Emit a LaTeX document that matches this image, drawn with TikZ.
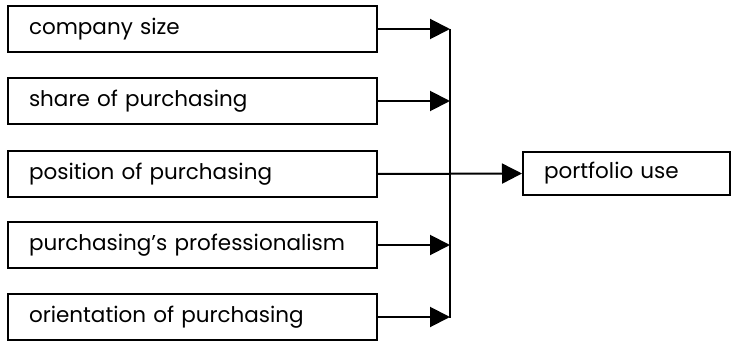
\documentclass[tikz,border=0pt]{standalone}
\usepackage{fontspec}
\setmainfont{Poppins}
\usetikzlibrary{arrows.meta}
\begin{document}
\begin{tikzpicture}[x=1pt,y=-1pt,
  factor/.style={draw, line width=2pt, anchor=west, minimum height=46pt,
    inner xsep=21pt, text width=327pt, align=left,
    font=\fontsize{21.5}{24}\selectfont},
  outcome/.style={factor, minimum height=43pt, text width=165pt},
  link/.style={line width=2pt, -{Triangle[length=20pt,width=20pt]}},
  bus/.style={line width=2pt}]
\useasboundingbox (0,0) rectangle (732,345);
\node[factor] (b1) at (7,29)  {company size};
\node[factor] (b2) at (7,101) {share of purchasing};
\node[factor] (b3) at (7,174) {position of purchasing};
\node[factor] (b4) at (7,245) {purchasing’s professionalism};
\node[factor] (b5) at (7,317) {orientation of purchasing};
\node[outcome] (p) at (522,173.5) {portfolio use};
\coordinate (top) at (450,29);
\coordinate (bot) at (450,318);
\draw[bus] (top) -- (bot);
\foreach \b in {b1,b2,b4,b5}
  \draw[link] (\b.east) -- (\b.east -| top);
\draw[link] (b3.east) -- (p.west);
\end{tikzpicture}
\end{document}
